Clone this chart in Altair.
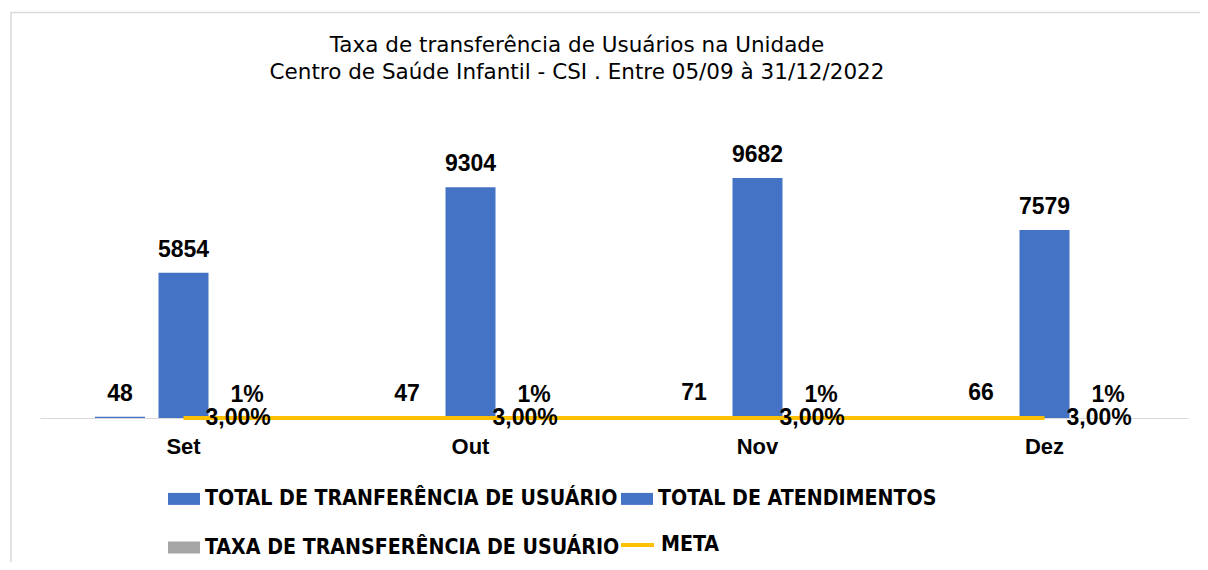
import altair as alt
import pandas as pd

months = ["Set", "Out", "Nov", "Dez"]
transferencias = [48, 47, 71, 66]
atendimentos = [5854, 9304, 9682, 7579]
taxa = [0.01, 0.01, 0.01, 0.01]
meta = [0.03, 0.03, 0.03, 0.03]

S1 = "TOTAL DE TRANFERÊNCIA DE USUÁRIO"
S2 = "TOTAL DE ATENDIMENTOS"
S3 = "TAXA DE TRANSFERÊNCIA DE USUÁRIO"
S4 = "META"
bar_series = [S1, S2, S3]
legend_order = [S1, S3, S2]          # legend fills column by column
legend_colors = ["#4472C4", "#A5A5A5", "#4472C4"]
meta_color = "#FFC000"

rows = []
for i, m in enumerate(months):
    rows.append({"month": m, "series": S1, "value": transferencias[i], "label": f"{transferencias[i]}"})
    rows.append({"month": m, "series": S2, "value": atendimentos[i], "label": f"{atendimentos[i]}"})
    rows.append({"month": m, "series": S3, "value": taxa[i], "label": f"{round(taxa[i]*100)}%"})
    rows.append({"month": m, "series": S4, "value": meta[i], "label": f"{meta[i]*100:.2f}%".replace(".", ",")})
df = pd.DataFrame(rows)

FONT = "Liberation Sans"
TITLEFONT = "DejaVu Sans"
LEGFONT = "Liberation Sans Narrow, DejaVu Sans Condensed"

x_enc = alt.X("month:N", sort=months, title=None,
              scale=alt.Scale(paddingInner=0.383, paddingOuter=0.1915),
              axis=alt.Axis(domainColor="#D9D9D9", domainWidth=1, ticks=False,
                            labelAngle=0, labelFont=FONT, labelFontSize=22,
                            labelFontWeight="bold", labelColor="#000000",
                            labelPadding=18))
y_enc = alt.Y("value:Q", scale=alt.Scale(domain=[0, 12000]), axis=None)

LEG_Y = 362
leg_common = dict(title=None, orient="none", labelFont=LEGFONT, labelFontSize=21.2,
                  labelFontWeight="bold", labelColor="#000000", labelLimit=600,
                  labelOffset=5)

color_enc = alt.Color("series:N",
                      scale=alt.Scale(domain=legend_order, range=legend_colors),
                      legend=alt.Legend(
                          legendX=128, legendY=LEG_Y, columns=2, columnPadding=1,
                          rowPadding=22, symbolType="M-1,-0.375H1V0.375H-1Z",
                          symbolSize=1024, symbolStrokeWidth=0, **leg_common))

base = alt.Chart(df)

bars = base.transform_filter(
    alt.FieldOneOfPredicate(field="series", oneOf=bar_series)
).mark_bar().encode(
    x=x_enc,
    xOffset=alt.XOffset("series:N", sort=bar_series,
                        scale=alt.Scale(domain=bar_series, paddingInner=0.213, paddingOuter=0)),
    y=y_enc,
    color=color_enc,
)

bar_labels = base.transform_filter(
    alt.FieldOneOfPredicate(field="series", oneOf=bar_series)
).mark_text(font=FONT, fontSize=23, fontWeight="bold", color="#000000",
            baseline="alphabetic", dy=-16).encode(
    x=alt.X("month:N", sort=months),
    xOffset=alt.XOffset("series:N", sort=bar_series),
    y=alt.Y("value:Q"),
    text="label:N",
)

line = base.transform_filter(alt.datum.series == S4).mark_line(
    strokeWidth=4).encode(
    x=alt.X("month:N", sort=months),
    y=alt.Y("value:Q"),
    stroke=alt.Stroke("series:N", scale=alt.Scale(domain=[S4], range=[meta_color]),
                      legend=alt.Legend(legendX=579, legendY=LEG_Y + 44,
                                        symbolType="stroke", symbolSize=1089,
                                        symbolStrokeWidth=4, **leg_common)),
)

line_labels = base.transform_filter(alt.datum.series == S4).mark_text(
    font=FONT, fontSize=23, fontWeight="bold", color="#000000",
    align="left", baseline="middle", dx=22).encode(
    x=alt.X("month:N", sort=months),
    y=alt.Y("value:Q"),
    text="label:N",
)

border = alt.Chart(pd.DataFrame({"a": [0]})).mark_rect(
    fill="transparent", stroke="#D9D9D9", strokeWidth=1.5).encode(
    x=alt.value(-29), x2=alt.value(1167), y=alt.value(-108), y2=alt.value(480))

chart = alt.layer(border, bars, bar_labels, line, line_labels).properties(
    width=1148, height=297.5,
    padding={"left": 32, "top": 112.5, "right": 12, "bottom": 144},
    autosize=alt.AutoSizeParams(type="none"),
    title=alt.TitleParams(
        text=["Taxa de transferência de Usuários na Unidade",
              "Centro de Saúde Infantil - CSI . Entre 05/09 à 31/12/2022"],
        font=TITLEFONT, fontSize=21.5, fontWeight="normal", color="#000000",
        anchor="middle", frame="group", dx=-37, offset=-72, lineHeight=27),
).resolve_legend(color="independent", stroke="independent").configure_view(stroke=None)

chart.save("out.html", embed_options={"renderer": "svg", "actions": False})
